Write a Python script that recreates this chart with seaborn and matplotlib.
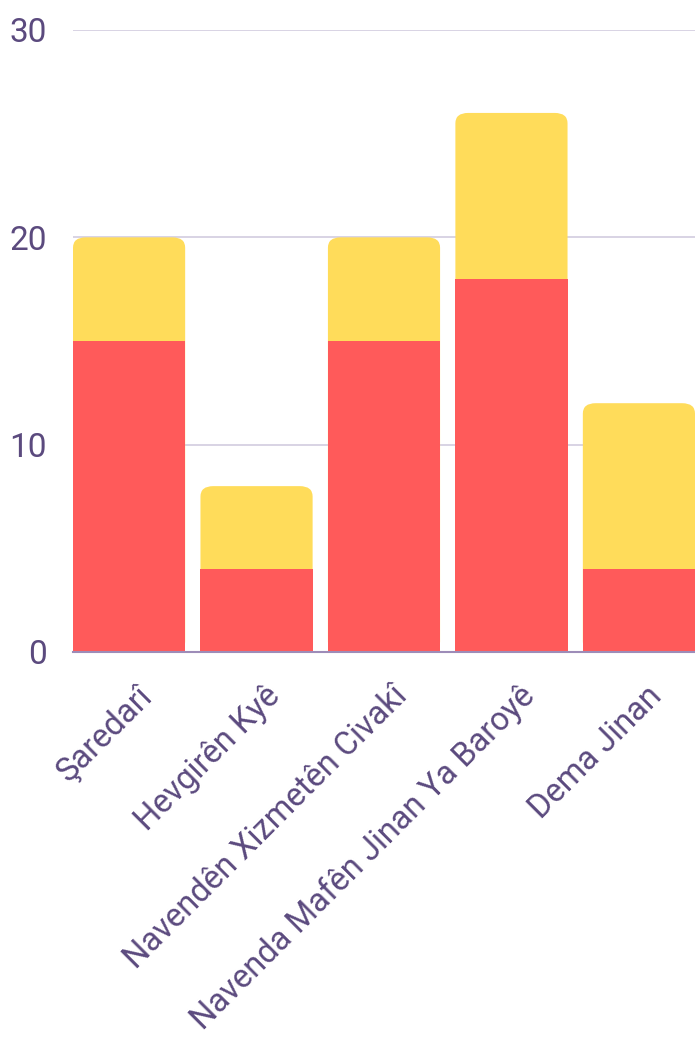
import matplotlib
matplotlib.use("Agg")
import matplotlib.pyplot as plt
import matplotlib.transforms as mtransforms
from matplotlib.patches import FancyBboxPatch
import pandas as pd
import seaborn as sns

categories = ["Şaredarî", "Hevgirên Kyê", "Navendên Xizmetên Civakî",
              "Navenda Mafên Jinan Ya Baroyê", "Dema Jinan"]
red_values = [15, 4, 15, 18, 4]
yellow_values = [5, 4, 5, 8, 8]
y_ticks = [0, 10, 20, 30]

RED = "#ff5a5a"
YELLOW = "#ffdc5a"
TEXT = "#5b4a7e"
GRID = "#d6d0e2"

sns.set_theme(style="white")
plt.rcParams["font.family"] = ["Roboto", "DejaVu Sans"]

totals = [r + y for r, y in zip(red_values, yellow_values)]
df = pd.DataFrame({"cat": categories, "red": red_values, "total": totals})

fig = plt.figure(figsize=(6.95, 10.38), dpi=100)
ax = fig.add_axes([73 / 695, 386 / 1038, 622 / 695, 622 / 1038])

width = 0.88
# yellow drawn as the full total, red drawn over it
sns.barplot(data=df, x="cat", y="total", color=YELLOW, saturation=1,
            width=width, linewidth=0, ax=ax, zorder=2)
# swap the yellow bars for rounded-top versions
for p in list(ax.patches):
    x0, w, h = p.get_x(), p.get_width(), p.get_height()
    p.remove()
    rx, ry = 0.1, 0.5
    fb = FancyBboxPatch((x0, 0), w, h,
                        boxstyle="round,pad=0,rounding_size=%f" % rx,
                        mutation_aspect=ry / rx,
                        facecolor=YELLOW, edgecolor="none", zorder=2)
    ax.add_patch(fb)
sns.barplot(data=df, x="cat", y="red", color=RED, saturation=1,
            width=width, linewidth=0, ax=ax, zorder=3)

ax.set_xlim(-width / 2, len(categories) - 1 + width / 2)
ax.set_ylim(0, 30)
ax.set_yticks(y_ticks)
ax.yaxis.grid(True, color=GRID, linewidth=1.3, zorder=0)
ax.set_axisbelow(True)
for s in ["top", "right", "left"]:
    ax.spines[s].set_visible(False)
ax.spines["bottom"].set_color("#9d8cb8")
ax.spines["bottom"].set_linewidth(1.5)
ax.spines["bottom"].set_zorder(4)
ax.set_xlabel("")
ax.set_ylabel("")
ax.tick_params(axis="y", length=0, pad=19, labelsize=24, labelcolor=TEXT)
ax.tick_params(axis="x", length=0, pad=20, labelsize=23.5, labelcolor=TEXT)
shift = mtransforms.ScaledTranslation(7 / 100, 0, fig.dpi_scale_trans)
for lab in ax.get_xticklabels():
    lab.set_rotation(45)
    lab.set_ha("right")
    lab.set_rotation_mode("anchor")
    lab.set_transform(lab.get_transform() + shift)

fig.savefig("out.png", dpi=100)
